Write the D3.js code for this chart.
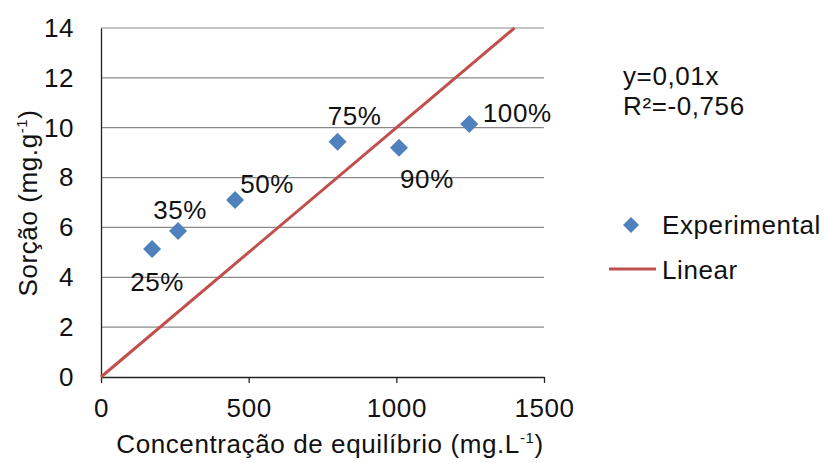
<!DOCTYPE html>
<html><head><meta charset="utf-8">
<script src="https://cdn.jsdelivr.net/npm/d3@7"></script>
<style>body{margin:0;background:#fff}text{font-family:"Liberation Sans",Arial,sans-serif;fill:#111;letter-spacing:0.6px}</style>
</head><body>
<svg id="c" width="824" height="463"></svg>
<script>
const labels = ["25%","35%","50%","75%","90%","100%"];
const concentracao = [173, 261, 454, 801, 1009, 1247];
const sorcao = [5.13, 5.86, 7.1, 9.44, 9.2, 10.15];
const xTicks = [0, 500, 1000, 1500];
const yTicks = [0, 2, 4, 6, 8, 10, 12, 14];
const slope = 0.01;
const linearX = [0, 1400];
const equation = ["y=0,01x", "R²=-0,756"];
const seriesNames = ["Experimental", "Linear"];

// label placement offsets (layout only)
const labelOffsets = [[5,42],[2,-12],[32,-7],[17,-17],[28,40],[48,-2]];

const svg = d3.select("#c");
const fs = 26;
const x = d3.scaleLinear().domain([0,1500]).range([101,544]);
const y = d3.scaleLinear().domain([0,14]).range([377,28]);

// gridlines
svg.append("g").selectAll("line").data(yTicks.filter(d=>d>0)).join("line")
  .attr("x1",x(0)).attr("x2",x(1500)).attr("y1",d=>y(d)).attr("y2",d=>y(d))
  .attr("stroke","#8a8a8a").attr("stroke-width",1.2);

// x axis
const xa = svg.append("g").attr("transform",`translate(0,${y(0)})`)
  .call(d3.axisBottom(x).tickValues(xTicks).tickFormat(d3.format("d")).tickSize(6).tickSizeOuter(0).tickPadding(16));
xa.select(".domain").attr("stroke","#222").attr("stroke-width",1.3);
xa.selectAll(".tick line").attr("stroke","#222").attr("stroke-width",1.3);
xa.selectAll("text").attr("font-size",fs).attr("font-family","Liberation Sans, Arial").attr("fill","#111");

// y axis
const ya = svg.append("g").attr("transform",`translate(${x(0)},0)`)
  .call(d3.axisLeft(y).tickValues(yTicks).tickSize(0).tickPadding(27));
ya.select(".domain").attr("stroke","#222").attr("stroke-width",1.3);
ya.selectAll("text").attr("font-size",fs).attr("font-family","Liberation Sans, Arial").attr("fill","#111");

// linear trend line
svg.append("line")
  .attr("x1",x(linearX[0])).attr("y1",y(slope*linearX[0]))
  .attr("x2",x(linearX[1])).attr("y2",y(slope*linearX[1]))
  .attr("stroke","#C0504D").attr("stroke-width",3);

// points
const pts = concentracao.map((c,i)=>({c, s:sorcao[i], l:labels[i], o:labelOffsets[i]}));
svg.append("g").selectAll("path").data(pts).join("path")
  .attr("d","M0,-9L9,0L0,9L-9,0Z")
  .attr("transform",d=>`translate(${x(d.c)},${y(d.s)})`)
  .attr("fill","#4F81BD");

svg.append("g").selectAll("text").data(pts).join("text")
  .attr("x",d=>x(d.c)+d.o[0]).attr("y",d=>y(d.s)+d.o[1])
  .attr("text-anchor","middle").attr("font-size",fs).text(d=>d.l);

// axis titles
const yt = svg.append("text").attr("transform","translate(37,203) rotate(-90)")
  .attr("text-anchor","middle").attr("font-size",fs);
yt.append("tspan").text("Sorção (mg.g");
yt.append("tspan").attr("font-size",15).attr("dy",-10).text("-1");
yt.append("tspan").attr("dy",10).text(")");

const xt = svg.append("text").attr("x",330).attr("y",453)
  .attr("text-anchor","middle").attr("font-size",fs);
xt.append("tspan").text("Concentração de equilíbrio (mg.L");
xt.append("tspan").attr("font-size",15).attr("dy",-10).text("-1");
xt.append("tspan").attr("dy",10).text(")");

// equation
svg.append("g").selectAll("text").data(equation).join("text")
  .attr("x",623).attr("y",(d,i)=>85+i*30).attr("font-size",fs).text(d=>d);

// legend
svg.append("path").attr("d","M0,-8L8,0L0,8L-8,0Z").attr("transform","translate(631,225)").attr("fill","#4F81BD");
svg.append("text").attr("x",662).attr("y",234).attr("font-size",fs).text(seriesNames[0]);
svg.append("line").attr("x1",609).attr("x2",656).attr("y1",269).attr("y2",269)
  .attr("stroke","#C0504D").attr("stroke-width",3);
svg.append("text").attr("x",662).attr("y",279).attr("font-size",fs).text(seriesNames[1]);
</script>
</body></html>
